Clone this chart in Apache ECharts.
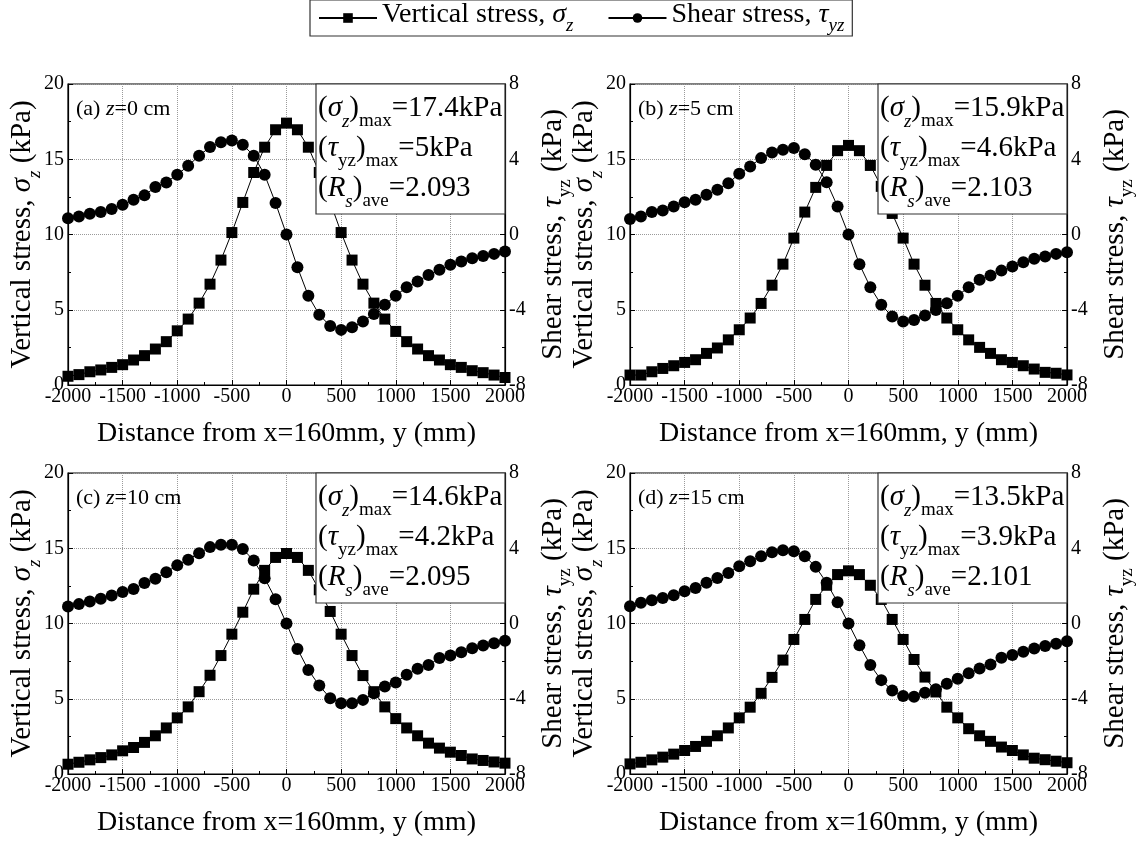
<!DOCTYPE html>
<html>
<head>
<meta charset="utf-8">
<script src="https://cdn.jsdelivr.net/npm/echarts@6/dist/echarts.min.js"></script>
<style>html,body{margin:0;padding:0;background:#fff;}#c{width:1138px;height:845px;}</style>
</head>
<body>
<div id="c"></div>
<script>
// ---- data ----
const yDist = [-2000,-1900,-1800,-1700,-1600,-1500,-1400,-1300,-1200,-1100,-1000,-900,-800,-700,-600,-500,-400,-300,-200,-100,0,100,200,300,400,500,600,700,800,900,1000,1100,1200,1300,1400,1500,1600,1700,1800,1900,2000];

const sigmaA = [0.58,0.69,0.88,1.0,1.17,1.35,1.66,1.95,2.39,2.88,3.6,4.38,5.44,6.7,8.3,10.13,12.13,14.12,15.8,16.96,17.4,16.96,15.8,14.12,12.15,10.13,8.3,6.7,5.44,4.38,3.56,2.88,2.39,1.95,1.66,1.35,1.17,0.95,0.82,0.66,0.5];
const tauA = [0.87,0.96,1.1,1.19,1.35,1.58,1.85,2.08,2.52,2.77,3.18,3.65,4.19,4.65,4.9,5.0,4.77,4.19,3.18,1.67,0,-1.74,-3.26,-4.27,-4.86,-5.07,-4.93,-4.63,-4.22,-3.74,-3.25,-2.8,-2.5,-2.15,-1.88,-1.61,-1.44,-1.26,-1.14,-1.03,-0.9];

const sigmaB = [0.66,0.66,0.88,1.1,1.28,1.5,1.68,2.1,2.46,3.0,3.67,4.45,5.42,6.63,8.03,9.76,11.49,13.13,14.59,15.57,15.92,15.57,14.59,13.2,11.4,9.76,8.03,6.63,5.42,4.45,3.67,3.0,2.5,2.1,1.68,1.5,1.28,1.06,0.84,0.78,0.67];
const tauB = [0.83,0.96,1.19,1.28,1.49,1.72,1.85,2.11,2.38,2.73,3.23,3.62,4.06,4.36,4.51,4.6,4.27,3.71,2.78,1.49,0,-1.58,-2.8,-3.74,-4.36,-4.63,-4.54,-4.31,-4.01,-3.65,-3.25,-2.8,-2.41,-2.18,-1.92,-1.7,-1.47,-1.29,-1.17,-1.03,-0.94];

const sigmaC = [0.65,0.78,0.94,1.09,1.27,1.54,1.76,2.1,2.54,3.06,3.73,4.46,5.47,6.56,7.87,9.29,10.75,12.28,13.53,14.39,14.65,14.39,13.53,12.24,10.8,9.29,7.87,6.54,5.47,4.46,3.68,3.06,2.54,2.05,1.72,1.45,1.23,1.0,0.9,0.8,0.72];
const tauC = [0.9,1.03,1.17,1.31,1.49,1.67,1.84,2.15,2.38,2.73,3.09,3.39,3.74,4.06,4.19,4.19,3.96,3.35,2.41,1.29,0,-1.35,-2.47,-3.3,-3.97,-4.24,-4.24,-4.06,-3.71,-3.35,-3.14,-2.73,-2.41,-2.2,-1.84,-1.7,-1.53,-1.31,-1.17,-1.05,-0.92];

const sigmaD = [0.67,0.78,0.94,1.12,1.32,1.56,1.83,2.17,2.54,3.06,3.73,4.44,5.36,6.42,7.57,8.94,10.27,11.6,12.54,13.25,13.5,13.25,12.54,11.6,10.27,8.94,7.61,6.44,5.45,4.44,3.73,3.01,2.54,2.17,1.79,1.56,1.27,1.05,0.95,0.85,0.75];
const tauD = [0.92,1.1,1.24,1.36,1.5,1.72,1.89,2.16,2.42,2.69,3.04,3.31,3.58,3.79,3.89,3.84,3.58,3.01,2.16,1.13,0,-1.15,-2.21,-3.01,-3.56,-3.86,-3.89,-3.68,-3.5,-3.2,-2.94,-2.65,-2.39,-2.18,-1.82,-1.68,-1.5,-1.33,-1.2,-1.08,-0.94];

const panelLabels = [['(a) ','z','=0 cm'],['(b) ','z','=5 cm'],['(c) ','z','=10 cm'],['(d) ','z','=15 cm']];
const sigmaMax = ['17.4','15.9','14.6','13.5'];
const tauMax = ['5','4.6','4.2','3.9'];
const rsAve = ['2.093','2.103','2.095','2.101'];
const xTitle = 'Distance from x=160mm, y (mm)';

// ---- layout ----
const F = 'Liberation Serif';
const panels = [
  {L:68, T:84, s:sigmaA, t:tauA},
  {L:630, T:84, s:sigmaB, t:tauB},
  {L:68, T:473, s:sigmaC, t:tauC},
  {L:630, T:473, s:sigmaD, t:tauD}
];
const W = 437, H = 301;

// rich text with real subscripts: every token top-aligned, subscripts pushed down by top padding
function richSet(size, sub, lh, drop){
  const P = Math.round(lh/2 + 0.28*size + drop - 0.78*sub);
  const base = {fontFamily:F, fontSize:size, lineHeight:lh, color:'#000', verticalAlign:'top'};
  const sb = {fontFamily:F, fontSize:sub, lineHeight:sub, color:'#000', verticalAlign:'top', padding:[P,0,0,0]};
  return {
    n: base,
    i: Object.assign({}, base, {fontStyle:'italic'}),
    s: sb,
    si: Object.assign({}, sb, {fontStyle:'italic'})
  };
}

const grids=[], xAxes=[], yAxes=[], series=[], graphics=[];
const axisLineStyle = {color:'#000', width:1.2};
const plain = v => String(v);
panels.forEach((p,k)=>{
  grids.push({left:p.L, top:p.T, width:W, height:H, show:true, borderColor:'#000', borderWidth:1.2, backgroundColor:'transparent'});
  xAxes.push({type:'value', gridIndex:k, min:-2000, max:2000, interval:500, position:'bottom',
    axisLine:{show:true, onZero:false, lineStyle:axisLineStyle},
    axisTick:{show:true, inside:true, length:5, lineStyle:{color:'#000'}},
    minorTick:{show:true, splitNumber:2, length:3, lineStyle:{color:'#000'}},
    axisLabel:{fontFamily:F, fontSize:20, color:'#000', margin:2, formatter:plain},
    splitLine:{show:true, lineStyle:{color:'#9a9a9a', type:'dotted', width:1}}
  });
  yAxes.push({type:'value', gridIndex:k, min:0, max:20, interval:5, position:'left',
    axisLine:{show:true, onZero:false, lineStyle:axisLineStyle},
    axisTick:{show:true, inside:true, length:5, lineStyle:{color:'#000'}},
    minorTick:{show:true, splitNumber:2, length:3, lineStyle:{color:'#000'}},
    axisLabel:{fontFamily:F, fontSize:20, color:'#000', margin:4, formatter:plain},
    splitLine:{show:true, lineStyle:{color:'#9a9a9a', type:'dotted', width:1}}
  });
  yAxes.push({type:'value', gridIndex:k, min:-8, max:8, interval:4, position:'right',
    axisLine:{show:true, onZero:false, lineStyle:axisLineStyle},
    axisTick:{show:true, inside:true, length:5, lineStyle:{color:'#000'}},
    minorTick:{show:true, splitNumber:2, length:3, lineStyle:{color:'#000'}},
    axisLabel:{fontFamily:F, fontSize:20, color:'#000', margin:4, formatter:plain},
    splitLine:{show:false}
  });
  series.push({name:'Vertical stress', type:'line', xAxisIndex:k, yAxisIndex:2*k,
    data: yDist.map((x,i)=>[x,p.s[i]]), symbol:'rect', symbolSize:11,
    lineStyle:{color:'#000', width:1}, itemStyle:{color:'#000'}, z:3, animation:false});
  series.push({name:'Shear stress', type:'line', xAxisIndex:k, yAxisIndex:2*k+1,
    data: yDist.map((x,i)=>[x,p.t[i]]), symbol:'circle', symbolSize:12,
    lineStyle:{color:'#000', width:1}, itemStyle:{color:'#000'}, z:3, animation:false});

  // annotation box
  graphics.push({type:'rect', z:100, shape:{x:p.L+248, y:p.T, width:W-248, height:130},
    style:{fill:'#fff', stroke:'#333', lineWidth:1.2}});
  graphics.push({type:'text', z:101, x:p.L+250, y:p.T+10,
    style:{text:
      '{n|(}{i|σ}{si|z}{n|)}{s|max}{n|='+sigmaMax[k]+'kPa}\n'+
      '{n|(}{i|τ}{s|yz}{n|)}{s|max}{n|='+tauMax[k]+'kPa}\n'+
      '{n|(}{i|R}{si|s}{n|)}{s|ave}{n|='+rsAve[k]+'}',
      align:'left', verticalAlign:'top', rich: richSet(29, 19, 40, 5)}});
  // panel label
  const pl = panelLabels[k];
  graphics.push({type:'text', z:101, x:p.L+8, y:p.T+26,
    style:{text:'{n|'+pl[0]+'}{i|'+pl[1]+'}{n|'+pl[2]+'}', align:'left', verticalAlign:'middle', rich: richSet(22,15,24,0)}});
  // axis titles
  graphics.push({type:'text', z:101, x:p.L-41, y:p.T+H/2, rotation:Math.PI/2,
    style:{text:'{n|Vertical stress, }{i|σ}{si|z}{n| (kPa)}', align:'center', verticalAlign:'middle', rich: richSet(29,19,38,5)}});
  graphics.push({type:'text', z:101, x:p.L+W+53, y:p.T+H/2, rotation:Math.PI/2,
    style:{text:'{n|Shear stress, }{i|τ}{s|yz}{n| (kPa)}', align:'center', verticalAlign:'middle', rich: richSet(29,19,38,5)}});
  graphics.push({type:'text', z:101, x:p.L+W/2, y:p.T+H+49,
    style:{text:xTitle, font:'28px "Liberation Serif"', fill:'#000', align:'center', verticalAlign:'middle'}});
});

const legendRich = richSet(28,19,34,5);
const option = {
  animation:false,
  backgroundColor:'#fff',
  legend:{
    top:0, left:310, orient:'horizontal',
    data:['Vertical stress','Shear stress'],
    itemWidth:58, itemHeight:12, itemGap:34,
    borderColor:'#333', borderWidth:1.2, padding:[1,8,1,8],
    formatter:function(name){
      return name==='Vertical stress' ? '{n|Vertical stress, }{i|σ}{si|z}' : '{n|Shear stress, }{i|τ}{si|yz}';
    },
    textStyle:{fontFamily:F, fontSize:28, color:'#000', rich:legendRich}
  },
  grid:grids, xAxis:xAxes, yAxis:yAxes, series:series, graphic:graphics
};
const chart = echarts.init(document.getElementById('c'), null, {renderer:'canvas'});
chart.setOption(option);
</script>
</body>
</html>
